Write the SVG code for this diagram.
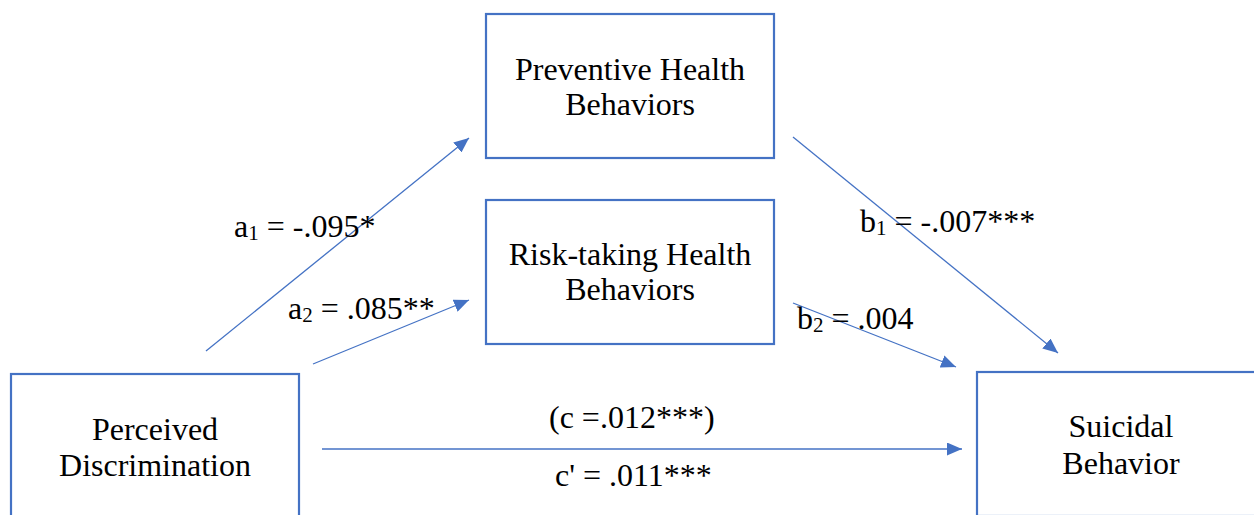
<svg xmlns="http://www.w3.org/2000/svg" width="1254" height="515" viewBox="0 0 1254 515">
<defs>
<marker id="arr" markerUnits="userSpaceOnUse" markerWidth="15" markerHeight="13" refX="15" refY="6.5" orient="auto">
<path d="M0,0 L15,6.5 L0,13 z" fill="#4472C4"/>
</marker>
<style>
.box{fill:#fff;stroke:#4472C4;stroke-width:2.2}
.t{font-family:"Liberation Serif","Times New Roman",serif;font-size:32px;fill:#000}
.c{text-anchor:middle}
.e{stroke:#4472C4;stroke-width:1.3;fill:none;marker-end:url(#arr)}
.sub{font-size:21px}
</style>
</defs>
<rect width="1254" height="515" fill="#fff"/>
<g id="connectors">
<line class="e" x1="206" y1="351" x2="469" y2="138"/>
<line class="e" x1="313" y1="364" x2="469" y2="300"/>
<line class="e" x1="793" y1="137" x2="1058" y2="353"/>
<line class="e" x1="793" y1="303" x2="956" y2="367"/>
<line class="e" x1="322" y1="449" x2="962" y2="449"/>
</g>
<g id="node-preventive">
<rect class="box" x="486" y="14" width="288" height="144"/>
<text class="t c" x="630" y="80">Preventive Health</text>
<text class="t c" x="630" y="115">Behaviors</text>
</g>
<g id="node-risk">
<rect class="box" x="486" y="200" width="288" height="144"/>
<text class="t c" x="630" y="265">Risk-taking Health</text>
<text class="t c" x="630" y="300">Behaviors</text>
</g>
<g id="node-perceived">
<rect class="box" x="11" y="374" width="288" height="144"/>
<text class="t c" x="155" y="440">Perceived</text>
<text class="t c" x="155" y="476">Discrimination</text>
</g>
<g id="node-suicidal">
<rect class="box" x="977" y="372" width="288" height="144"/>
<text class="t c" x="1121" y="437">Suicidal</text>
<text class="t c" x="1121" y="474">Behavior</text>
</g>
<g id="labels">
<text class="t" x="234" y="237">a<tspan class="sub" dy="3">1</tspan><tspan dy="-3"> = -.095*</tspan></text>
<text class="t" x="288" y="319">a<tspan class="sub" dy="3">2</tspan><tspan dy="-3"> = .085**</tspan></text>
<text class="t" x="860" y="232">b<tspan class="sub" dy="3">1</tspan><tspan dy="-3"> = -.007***</tspan></text>
<text class="t" x="797" y="329">b<tspan class="sub" dy="3">2</tspan><tspan dy="-3"> = .004</tspan></text>
<text class="t" x="549" y="428">(c =.012***)</text>
<text class="t" x="555" y="486">c' = .011***</text>
</g>
</svg>
